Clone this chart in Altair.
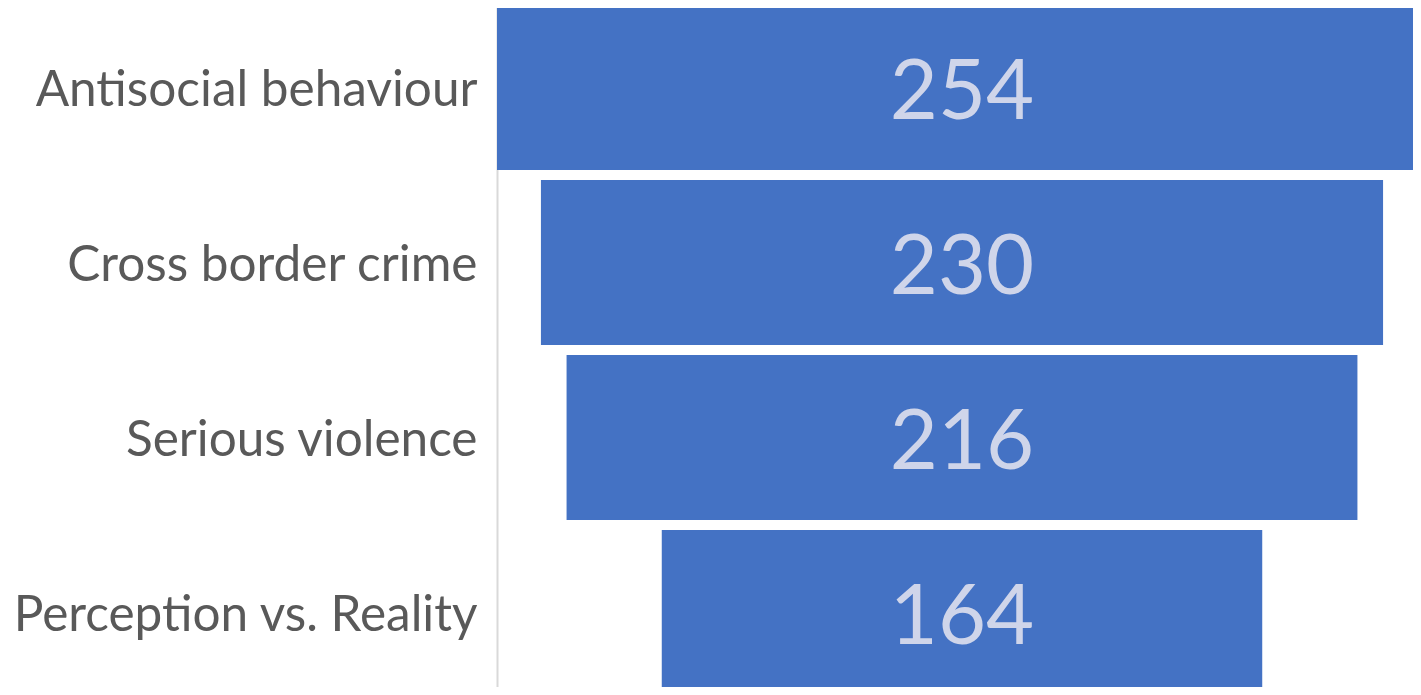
import altair as alt
import pandas as pd

categories = ["Antisocial behaviour", "Cross border crime", "Serious violence", "Perception vs. Reality"]
values = [254, 230, 216, 164]

df = pd.DataFrame({"category": categories, "value": values})

base = alt.Chart(df).transform_calculate(
    lo="-datum.value/2", hi="datum.value/2", mid="0"
)

yenc = alt.Y(
    "category:N",
    sort=categories,
    scale=alt.Scale(paddingInner=0.056, paddingOuter=0.028),
    axis=alt.Axis(
        title=None, labelFontSize=49.5, labelFont="Lato", labelColor="#595959",
        ticks=False, domainColor="#D9D9D9", domainWidth=2, labelPadding=20,
        labelLimit=0, grid=False, labelOffset=3,
    ),
)

bars = base.mark_bar(color="#4472C4").encode(
    y=yenc,
    x=alt.X("lo:Q", scale=alt.Scale(domain=[-127, 127], nice=False, zero=False), axis=None),
    x2="hi:Q",
)

text = base.mark_text(fontSize=83, font="Lato", color="#CFD5EA", baseline="middle", dy=6).encode(
    y=alt.Y("category:N", sort=categories),
    x=alt.X("mid:Q"),
    text="value:Q",
)

chart = (bars + text).properties(
    width=930, height=700,
    autosize=alt.AutoSizeParams(type="none"),
    padding={"left": 489, "top": -8, "right": -14, "bottom": -13},
).configure_view(stroke=None)

chart.save("out.html", embed_options={"renderer": "svg", "actions": False})
